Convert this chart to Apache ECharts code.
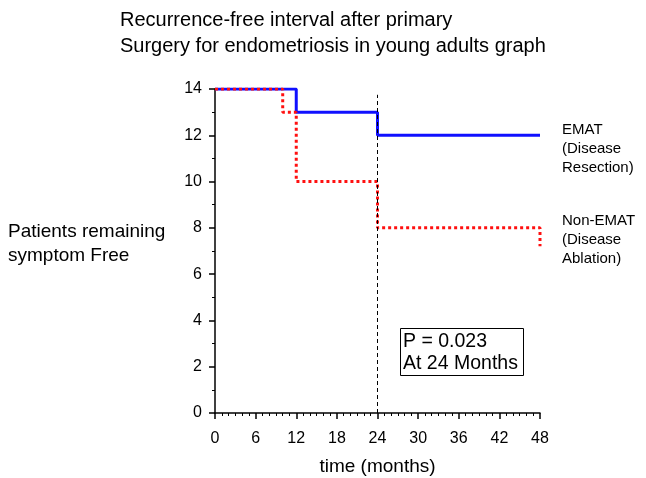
<!DOCTYPE html>
<html lang="en">
<head>
    <meta charset="UTF-8">
    <title>Recurrence-free interval</title>
    <script src="https://cdn.jsdelivr.net/npm/echarts@6/dist/echarts.min.js"></script>
    <style>
        body { margin: 0; background: #fff; }
    </style>
</head>
<body>
    <div id="main" style="width: 646px;height: 478px;"></div>
    <script>
        // survival steps: [month, patients remaining]
        var ematSteps = [[0, 14], [12, 13], [24, 12], [48, 12]];
        var nonEmatSteps = [[0, 14], [10, 13], [12, 10], [24, 8], [48, 8], [48, 7.2]];
        var xTicks = [0, 6, 12, 18, 24, 30, 36, 42, 48];
        var yTicks = [0, 2, 4, 6, 8, 10, 12, 14];
        var cutMonth = 24;

        var font = 'Liberation Sans, Arial, sans-serif';
        let chart = echarts.init(document.getElementById('main'));

        var option = {
            animation: false,
            grid: { left: 215, right: 106, top: 89, bottom: 65, containLabel: false, outerBoundsMode: 'none' },
            xAxis: {
                type: 'value',
                min: xTicks[0],
                max: xTicks[xTicks.length - 1],
                interval: 6,
                splitLine: { show: false },
                axisLine: { lineStyle: { color: '#000', width: 1.5 } },
                axisTick: { length: 6, lineStyle: { color: '#000', width: 1.5 } },
                minorTick: { show: true, splitNumber: 6, length: 3, lineStyle: { color: '#000', width: 1 } },
                axisLabel: { color: '#000', fontSize: 16, fontFamily: font, margin: 18 },
                name: 'time (months)',
                nameLocation: 'middle',
                nameGap: 44,
                nameTextStyle: { color: '#000', fontSize: 19, fontFamily: font }
            },
            yAxis: {
                type: 'value',
                min: yTicks[0],
                max: yTicks[yTicks.length - 1],
                interval: 2,
                splitLine: { show: false },
                axisLine: { show: true, lineStyle: { color: '#000', width: 1.5 } },
                axisTick: { show: true, length: 6, lineStyle: { color: '#000', width: 1.5 } },
                minorTick: { show: true, splitNumber: 2, length: 3, lineStyle: { color: '#000', width: 1 } },
                axisLabel: { color: '#000', fontSize: 16, fontFamily: font, margin: 13 }
            },
            series: [{
                type: 'line',
                name: 'EMAT',
                step: 'end',
                symbol: 'none',
                data: ematSteps,
                lineStyle: { color: '#1010ff', width: 3 },
                z: 3
            }, {
                type: 'line',
                name: 'Non-EMAT',
                step: 'end',
                symbol: 'none',
                data: nonEmatSteps,
                lineStyle: { color: '#ff1010', width: 3, type: [3, 3], cap: 'butt' },
                z: 4,
                markLine: {
                    silent: true,
                    symbol: 'none',
                    label: { show: false },
                    lineStyle: { color: '#000', width: 1, type: [4, 3] },
                    data: [[{ coord: [cutMonth, 0] }, { coord: [cutMonth, 13.75] }]]
                }
            }],
            graphic: [{
                type: 'text', left: 120, top: 7,
                style: {
                    text: 'Recurrence-free interval after primary\nSurgery for endometriosis in young adults graph',
                    font: '20px ' + font, fill: '#000', lineHeight: 26
                }
            }, {
                type: 'text', left: 8, top: 220,
                style: {
                    text: 'Patients remaining\nsymptom Free',
                    font: '19px ' + font, fill: '#000', lineHeight: 24
                }
            }, {
                type: 'text', left: 562, top: 120,
                style: {
                    text: 'EMAT\n(Disease\nResection)',
                    font: '15px ' + font, fill: '#000', lineHeight: 19
                }
            }, {
                type: 'text', left: 562, top: 211,
                style: {
                    text: 'Non-EMAT\n(Disease\nAblation)',
                    font: '15px ' + font, fill: '#000', lineHeight: 19
                }
            }, {
                type: 'rect', left: 400, top: 328,
                shape: { width: 123, height: 47 },
                style: { fill: '#fff', stroke: '#000', lineWidth: 1 }
            }, {
                type: 'text', left: 403, top: 331,
                style: {
                    text: 'P = 0.023\nAt 24 Months',
                    font: '19.5px ' + font, fill: '#000', lineHeight: 22
                }
            }]
        };
        chart.setOption(option);
    </script>
</body>
</html>
